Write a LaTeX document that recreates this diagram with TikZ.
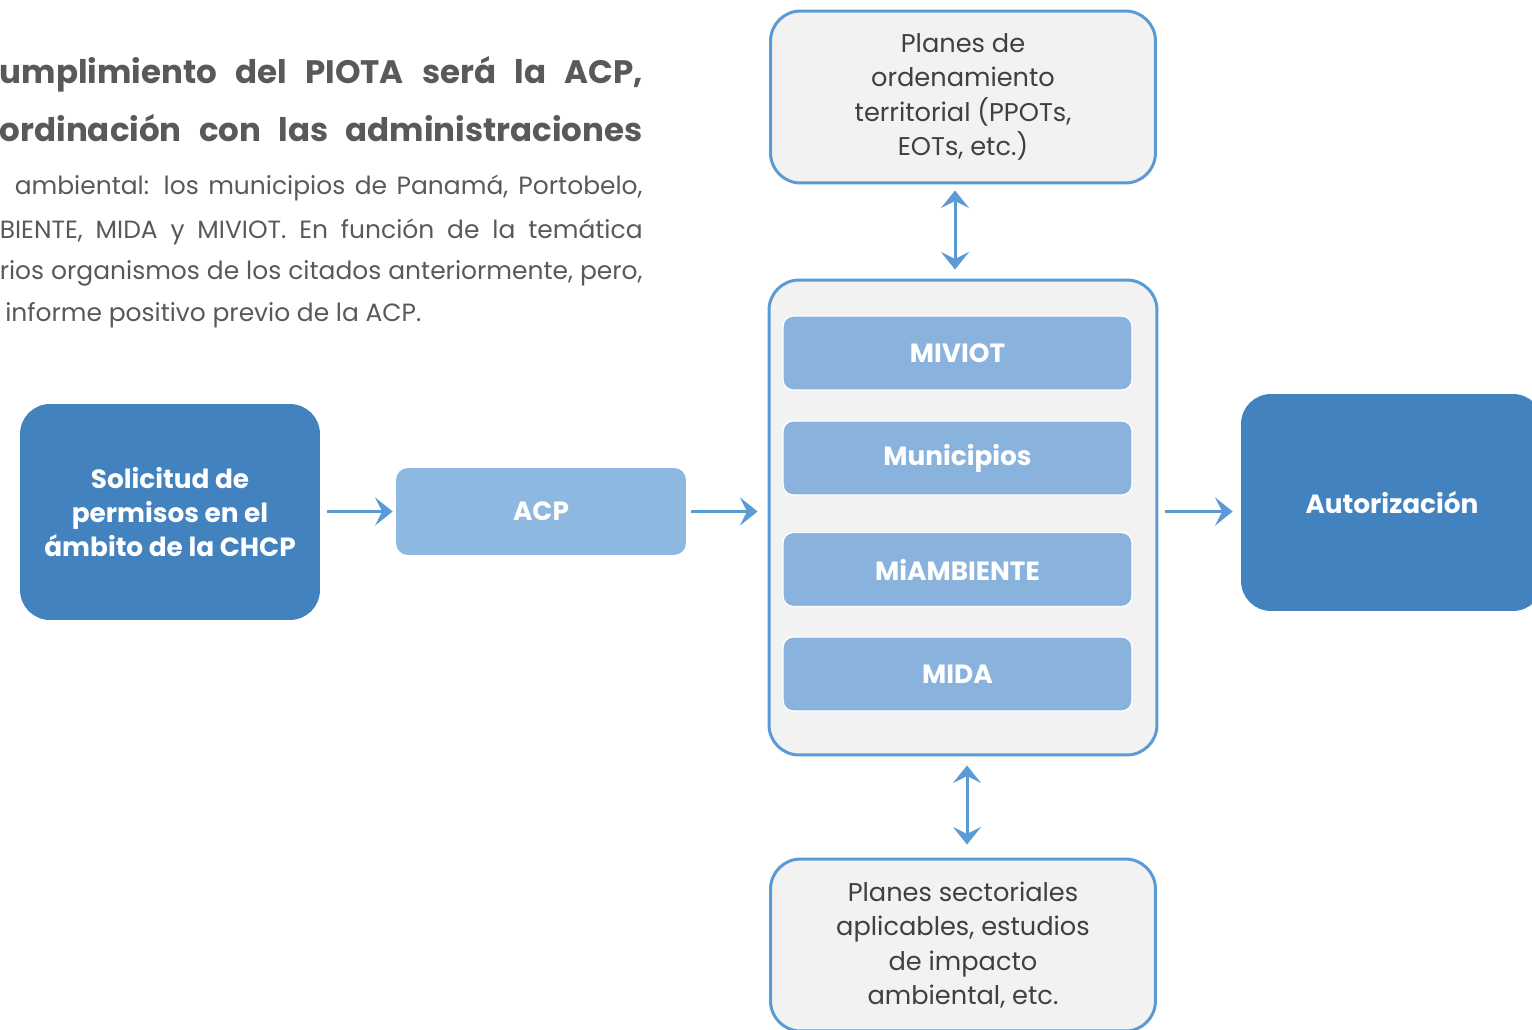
\documentclass[tikz,border=0pt]{standalone}
\usepackage{fontspec}
\setmainfont{Poppins}
\usetikzlibrary{arrows.meta}
\definecolor{darkblue}{HTML}{4282BF}
\definecolor{acpblue}{HTML}{8DB9E1}
\definecolor{orgblue}{HTML}{89B3DD}
\definecolor{edgeblue}{HTML}{5B9BD5}
\definecolor{panel}{HTML}{F2F2F2}
\definecolor{inkgray}{HTML}{404040}
\definecolor{headgray}{HTML}{595959}
\begin{document}
\begin{tikzpicture}[x=0.02cm,y=-0.02cm,
  arr/.style={edgeblue,line width=1.7pt,-{Stealth[length=10pt,width=16pt,inset=4pt]}},
  twoway/.style={edgeblue,line width=1.7pt,{Stealth[length=10pt,width=16pt,inset=4pt]}-{Stealth[length=10pt,width=16pt,inset=4pt]}},
  bigbox/.style={fill=darkblue,rounded corners=0.6cm,minimum width=6cm,text=white,
    font=\fontsize{15}{19.6}\selectfont\bfseries,align=center},
  planbox/.style={fill=panel,draw=edgeblue,line width=1.7pt,rounded corners=0.6cm,
    minimum width=7.7cm,text=inkgray,font=\fontsize{14.6}{19.6}\selectfont,align=center},
  orgbox/.style={fill=orgblue,draw=white,line width=0.8pt,rounded corners=0.2cm,
    minimum width=6.98cm,minimum height=1.48cm,text=white,font=\fontsize{15}{18}\selectfont\bfseries},
  headline/.style={anchor=east,text=headgray,inner sep=0pt,font=\fontsize{18.5}{22}\selectfont\bfseries},
  bodyline/.style={anchor=east,text=headgray,inner sep=0pt,font=\fontsize{14.2}{17}\selectfont}]
  \useasboundingbox (0,0) rectangle (1532,1030);
  % text at the top left
  \node[headline] (head1) at (643,74) {\makebox[12.86cm][s]{umplimiento del PIOTA será la ACP,}};
  \node[headline] (head2) at (643,128) {\makebox[12.86cm][s]{ordinación con las administraciones}};
  \foreach \i/\y/\w/\t in {1/188/12.56/{ambiental: los municipios de Panamá, Portobelo,},
      2/232/12.86/{BIENTE, MIDA y MIVIOT. En función de la temática},
      3/273/12.86/{rios organismos de los citados anteriormente, pero,}} {
    \node[bodyline] (body\i) at (643,\y) {\makebox[\w cm][s]{\t}};
  }
  \node[bodyline,anchor=west] (body4) at (5,315) {informe positivo previo de la ACP.};
  % boxes
  \node[bigbox,minimum height=4.32cm] (sol) at (170,512) {Solicitud de\\permisos en el\\ámbito de la CHCP};
  \node[fill=acpblue,rounded corners=0.24cm,minimum width=5.8cm,minimum height=1.74cm,
    text=white,font=\fontsize{15}{18}\selectfont\bfseries] (acp) at (541,511.5) {ACP};
  \node[fill=panel,draw=edgeblue,line width=1.7pt,rounded corners=0.6cm,
    minimum width=7.76cm,minimum height=9.5cm] (orgs) at (963,517.5) {};
  \node[orgbox] (miviot) at (957.5,353) {MIVIOT};
  \node[orgbox] (muni) at (957.5,458) {Municipios};
  \node[orgbox] (miamb) at (957.5,569.5) {MiAMBIENTE};
  \node[orgbox] (mida) at (957.5,674) {MIDA};
  \node[bigbox,minimum width=6.04cm,minimum height=4.34cm] (aut) at (1392,502.5) {Autorización};
  \node[planbox,minimum height=3.44cm] (ppot) at (963,97) {Planes de\\ordenamiento\\territorial (PPOTs,\\EOTs, etc.)};
  \node[planbox,minimum height=3.44cm] (sect) at (963,945) {Planes sectoriales\\aplicables, estudios\\de impacto\\ambiental, etc.};
  % connectors
  \draw[arr,shorten <=0.14cm,shorten >=0.06cm] (sol.east |- acp.west) -- (acp.west);
  \draw[arr,shorten <=0.1cm,shorten >=0.2cm] (acp.east) -- (acp.east -| orgs.west);
  \draw[arr,shorten <=0.14cm,shorten >=0.16cm] (orgs.east |- acp.east) -- (aut.west |- acp.east);
  \draw[twoway,shorten <=0.12cm,shorten >=0.18cm] ([xshift=-0.16cm]ppot.south) -- ([xshift=-0.16cm]orgs.north);
  \draw[twoway,shorten <=0.18cm,shorten >=0.26cm] ([xshift=0.08cm]orgs.south) -- ([xshift=0.08cm]sect.north);
\end{tikzpicture}
\end{document}
